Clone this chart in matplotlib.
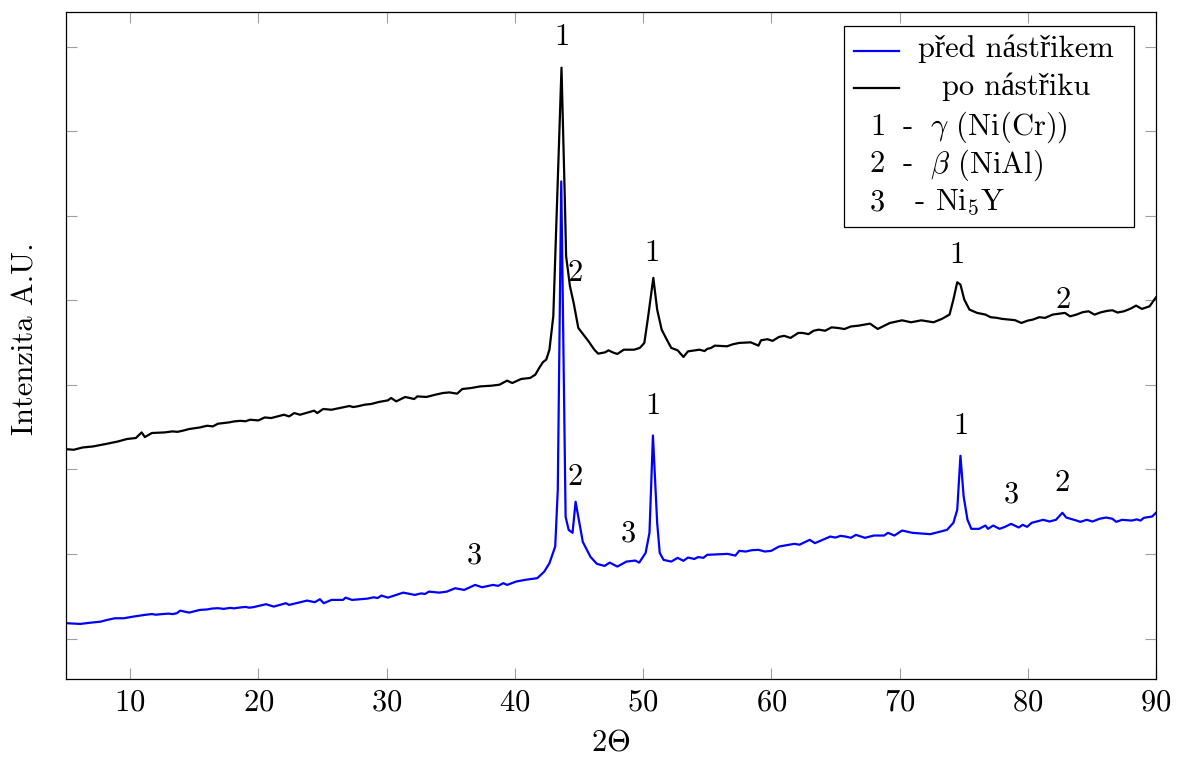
"""XRD pattern before and after spraying (pgfplots look-alike)."""

import matplotlib

matplotlib.use("Agg")

import matplotlib.pyplot as plt
from matplotlib.patches import Rectangle

# 2Theta / intensity (a.u.)
BLUE_X = [
    5.0, 6.1, 7.0, 7.7, 8.2, 8.8, 9.5, 10.3, 11.1, 11.7, 12.0, 12.4, 13.0, 13.3,
    13.65, 13.9, 14.6, 15.45, 16.0, 16.4, 16.85, 17.3, 17.8, 18.1, 18.5, 19.0, 19.3,
    19.6, 20.6, 21.2, 22.15, 22.4, 23.8, 24.4, 24.8, 25.1, 25.7, 26.6,
    26.8, 27.3, 28.5, 29.0, 29.3, 29.6, 30.1, 30.75, 31.3, 32.2, 32.7, 33.0, 33.3,
    34.1, 34.7, 35.35, 36.05, 36.9, 37.45, 38.3, 38.7, 39.1, 39.4, 40.1, 40.8, 41.75,
    42.3, 42.7, 43.15, 43.35,
    43.62, 43.96, 44.2, 44.5, 44.74, 45.3, 45.9, 46.4, 47.0, 47.4, 48.0, 48.7, 49.4,
    49.7, 50.2, 50.5, 50.77, 51.1, 51.3, 51.6, 52.2, 52.7, 53.15, 53.5, 54.0, 54.3,
    54.7, 55.0, 56.6, 57.2, 57.5, 58.0, 58.5, 59.0, 59.5, 60.0, 60.6, 61.8, 62.2,
    62.6, 63.0, 63.4, 64.6, 65.0, 65.4, 65.8, 66.2, 66.6,
    67.3, 68.0, 68.8, 69.1, 69.6, 70.2, 71.0, 71.5, 72.0, 72.4, 73.0, 73.7, 74.2,
    74.5, 74.75, 75.0, 75.3, 75.6, 76.2, 76.7, 76.9, 77.3, 77.8, 78.2, 78.7, 79.3,
    79.6, 79.95, 80.3, 80.7, 81.2, 81.7, 82.2, 82.7, 83.0, 83.8, 84.1, 84.6, 85.05,
    85.6, 86.1, 86.6, 86.9, 87.35, 88.1, 88.5, 88.8, 89.05, 89.7, 90.0,
]
BLUE_Y = [
    183, 174, 190, 201, 221, 241, 241, 262, 280, 291, 283, 289, 296, 290,
    301, 331, 308, 340, 345, 356, 360, 352, 364, 358, 367, 375, 366,
    372, 407, 379, 419, 399, 450, 431, 466, 419, 458, 458,
    485, 458, 473, 489, 480, 509, 485, 517, 544, 517, 535, 528, 556,
    544, 556, 596, 576, 635, 608, 635, 624, 656, 635, 675, 695, 715,
    793, 892, 1089, 1760,
    5405, 1440, 1286, 1251, 1618, 1144, 967, 884, 860, 899, 852, 911, 923,
    899, 1014, 1251, 2402, 1369, 1014, 931, 911, 955, 920, 959, 942, 965,
    955, 991, 1002, 982, 1038, 1030, 1046, 1050, 1030, 1038, 1089, 1121, 1110,
    1140, 1168, 1129, 1207, 1195, 1215, 1207, 1192, 1227,
    1192, 1219, 1219, 1251, 1219, 1278, 1251, 1245, 1240, 1235, 1259, 1286, 1369,
    1523, 2162, 1680, 1405, 1298, 1298, 1337, 1298, 1337, 1298, 1320, 1357, 1314,
    1346, 1322, 1369, 1385, 1405, 1385, 1405, 1488, 1432, 1396, 1381, 1405, 1385,
    1417, 1432, 1417, 1381, 1405, 1396, 1410, 1396, 1428, 1444, 1488,
]

BLACK_X = [
    5.0, 5.6, 6.3, 7.1, 8.2, 9.05, 9.75, 10.45, 10.9, 11.15, 11.7, 12.7, 13.3, 13.7,
    14.1, 14.6, 15.45, 16.0, 16.45, 16.85, 17.7, 18.1, 18.6, 19.0, 19.35, 20.0, 20.5,
    21.0, 22.0, 22.4, 22.8, 23.25, 24.35, 24.6, 25.05, 25.7, 26.6, 27.1, 27.4, 27.7,
    28.3, 28.8, 29.4, 30.1, 30.35, 30.75, 31.45, 32.15, 32.4, 33.1, 33.8, 34.4, 34.9,
    35.5, 35.9, 36.6, 37.3, 38.15, 38.8, 39.4, 39.8, 40.5, 41.2, 41.6, 41.9, 42.2,
    42.45, 42.7, 43.0, 43.3, 43.64, 43.9,
    44.0, 44.3, 44.6, 44.95, 45.35, 45.75, 46.2, 46.5, 47.05, 47.3, 47.75, 48.0, 48.5,
    49.3, 49.75, 50.1, 50.4, 50.8, 51.1, 51.45, 51.85, 52.2, 52.7, 53.15, 53.5, 54.4,
    54.8, 55.0, 55.3, 55.6, 56.55, 57.0, 57.5, 58.4, 59.0, 59.2, 59.7, 60.1, 60.6,
    61.0, 61.5, 62.1, 62.45, 62.9, 63.3, 63.7, 64.2, 64.7, 65.2, 65.7, 66.2,
    66.8, 67.7, 68.3, 69.25, 70.2, 70.9, 71.7, 72.65, 73.3, 73.9, 74.2, 74.5, 74.75,
    75.05, 75.45, 76.05, 76.7, 77.1, 77.6, 78.0, 78.55, 79.0, 79.5, 80.0, 80.4, 80.9,
    81.35, 81.95, 82.9, 83.3, 83.8, 84.3, 84.75, 85.2, 85.7, 86.2, 86.6, 87.0, 87.5,
    88.0, 88.45, 88.9, 89.5, 90.0,
]
BLACK_Y = [
    2240, 2233, 2260, 2272, 2304, 2331, 2360, 2372, 2438, 2383, 2431, 2438, 2450, 2445,
    2458, 2478, 2497, 2517, 2509, 2541, 2556, 2568, 2575, 2570, 2588, 2580, 2615,
    2608, 2647, 2627, 2667, 2647, 2695, 2667, 2715, 2706, 2734, 2750, 2738, 2745,
    2766, 2774, 2798, 2817, 2845, 2805, 2857, 2833, 2864, 2857, 2884, 2904, 2911,
    2896, 2951, 2963, 2982, 2990, 3002, 3050, 3022, 3070, 3082, 3121, 3200, 3270,
    3298, 3416, 3811, 5192, 6750, 5192,
    4521, 4166, 3960, 3673, 3594, 3515, 3416, 3369, 3385, 3408, 3377, 3366, 3416,
    3416, 3437, 3496, 3811, 4265, 3890, 3653, 3535, 3437, 3408, 3330, 3396, 3416,
    3400, 3425, 3437, 3464, 3456, 3480, 3496, 3503, 3464, 3527, 3540, 3520, 3567,
    3580, 3555, 3614, 3614, 3600, 3640, 3653, 3640, 3680, 3673, 3660, 3690,
    3700, 3724, 3661, 3732, 3763, 3740, 3763, 3740, 3780, 3831, 4008, 4213, 4186,
    4008, 3890, 3851, 3831, 3800, 3792, 3780, 3772, 3765, 3732, 3760, 3772, 3800,
    3792, 3831, 3851, 3810, 3831, 3860, 3870, 3830, 3858, 3875, 3882, 3855, 3870,
    3900, 3937, 3898, 3929, 4035,
]

# phase marks (baseline of the digit)
BLACK_MARK_X = [43.65, 44.69, 50.69, 74.49, 82.72]
BLACK_MARK_Y = [7014, 4225, 4461, 4442, 3913]
BLACK_MARK_TXT = ["1", "2", "1", "1", "2"]

BLUE_MARK_X = [36.81, 44.67, 48.86, 50.76, 74.78, 78.75, 82.71]
BLUE_MARK_Y = [892, 1819, 1148, 2659, 2422, 1614, 1751]
BLUE_MARK_TXT = ["3", "2", "3", "1", "1", "3", "2"]

LEGEND_LINES = ["před nástřikem", "po nástřiku"]
PHASE_NUM = ["1", "2", "3"]
PHASE_NAME = ["$\\gamma$ (Ni(Cr))", "$\\beta$ (NiAl)", "Ni$_5$Y"]

X_TICKS = [10, 20, 30, 40, 50, 60, 70, 80, 90]
Y_TICKS = [0, 1000, 2000, 3000, 4000, 5000, 6000, 7000]

plt.rcParams.update({
    "font.family": ["cmr10", "Liberation Serif"],
    "mathtext.fontset": "cm",
    "axes.formatter.use_mathtext": True,
    "font.size": 22,
})

fig = plt.figure(figsize=(11.8, 7.58), dpi=100)
ax = fig.add_axes([66 / 1180, 1 - 679 / 758, 1090 / 1180, 667 / 758])

ax.plot(BLUE_X, BLUE_Y, color="#0000ff", lw=1.6)
ax.plot(BLACK_X, BLACK_Y, color="black", lw=1.6)

for x, y, t in zip(BLACK_MARK_X, BLACK_MARK_Y, BLACK_MARK_TXT):
    ax.text(x, y, t, ha="center", va="baseline")
for x, y, t in zip(BLUE_MARK_X, BLUE_MARK_Y, BLUE_MARK_TXT):
    ax.text(x, y, t, ha="center", va="baseline")

ax.set_xlim(5, 90)
ax.set_ylim(-477, 7408)
ax.set_xticks(X_TICKS)
ax.set_yticks(Y_TICKS)
ax.set_yticklabels([])
ax.tick_params(direction="in", length=8, width=0.8, color="#a0a0a0",
               top=True, right=True, pad=7)
for s in ax.spines.values():
    s.set_linewidth(0.9)

ax.set_xlabel("$2\\Theta$")
ax.xaxis.set_label_coords(0.5, -0.075)
ax.set_ylabel("Intenzita A.U.")
ax.yaxis.set_label_coords(-0.024, 0.51)

# legend box, pgfplots style
ax.add_patch(Rectangle((0.7138, 0.6772), 0.266, 0.3018, transform=ax.transAxes,
                       facecolor="white", edgecolor="black", lw=0.9, zorder=5))
for yy, col in zip([0.9420, 0.8856], ["#0000ff", "black"]):
    ax.plot([0.7229, 0.7642], [yy, yy], color=col, lw=1.6,
            transform=ax.transAxes, zorder=6)
for yy, t in zip([0.9330, 0.8756], LEGEND_LINES):
    ax.text(0.8716, yy, t, ha="center", va="baseline",
            transform=ax.transAxes, zorder=6)
rows = zip([0.8156, 0.7594, 0.7031], [0.7725, 0.7725, 0.7830],
           [0.7931, 0.7931, 0.7972], PHASE_NUM, PHASE_NAME)
for yy, xd, xn, num, name in rows:
    ax.text(0.7445, yy, num, ha="center", va="baseline",
            transform=ax.transAxes, zorder=6)
    ax.text(xd, yy, "-", ha="center", va="baseline",
            transform=ax.transAxes, zorder=6)
    ax.text(xn, yy, name, ha="left", va="baseline",
            transform=ax.transAxes, zorder=6)

fig.savefig("out.png", dpi=100)
